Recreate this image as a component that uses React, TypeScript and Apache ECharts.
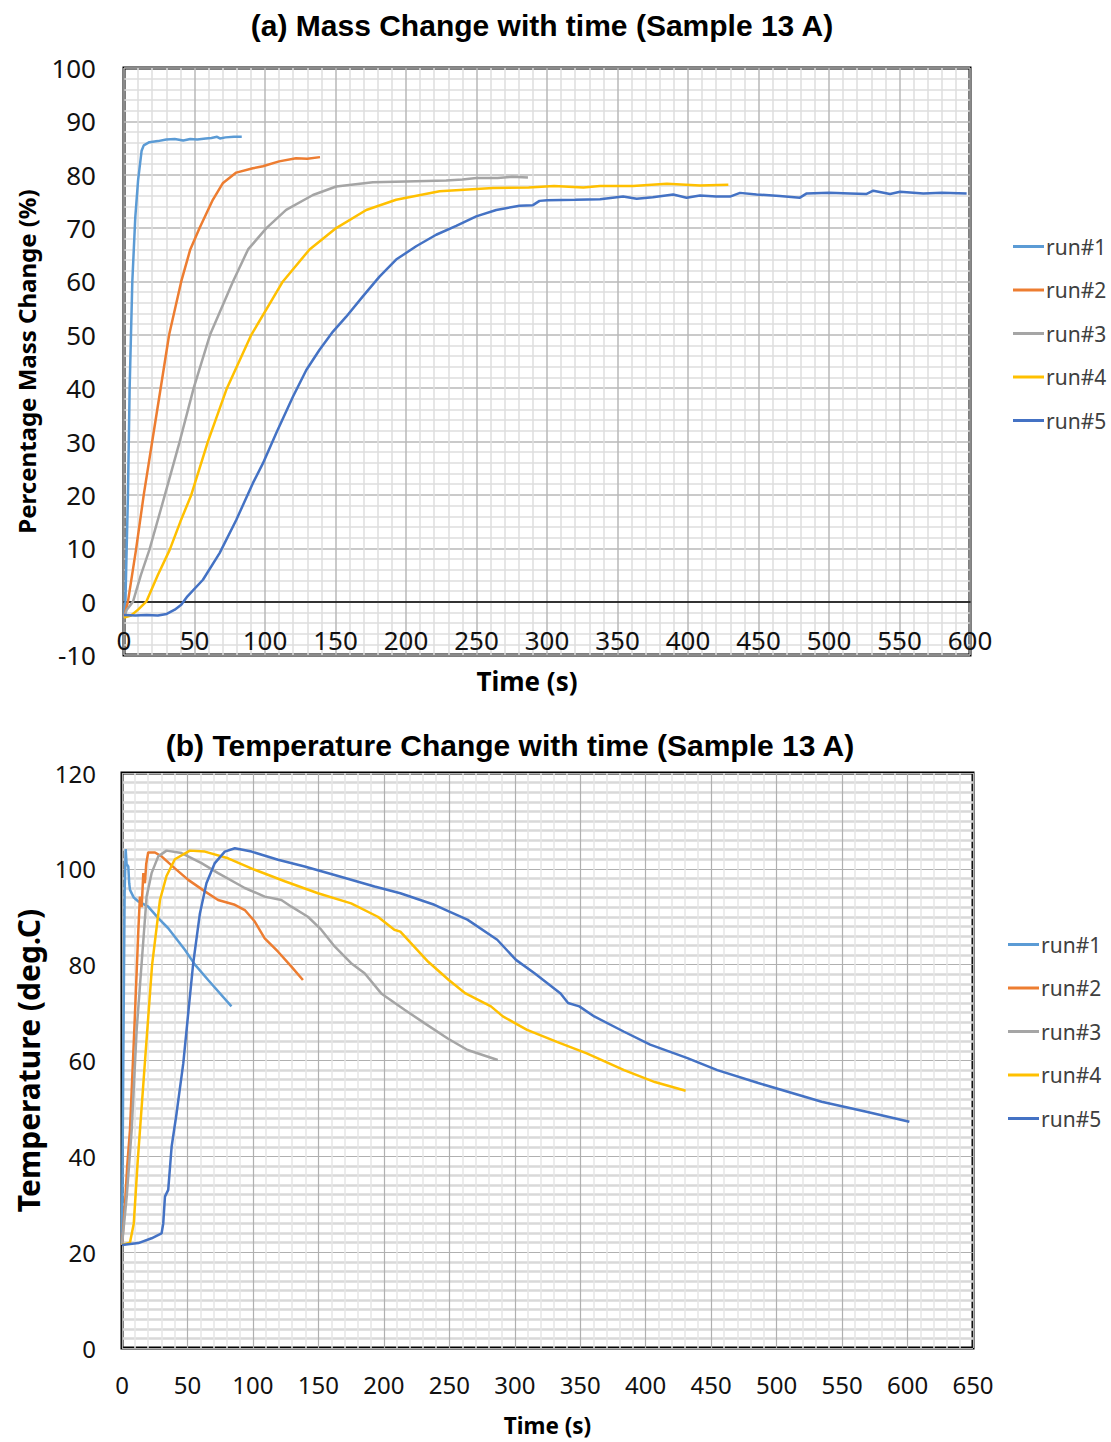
import React, { useEffect, useRef } from "react";
import * as echarts from "echarts";

// ---------- Data ----------
const runNames = ["run#1", "run#2", "run#3", "run#4", "run#5"];
const runColors = ["#5B9BD5", "#ED7D31", "#A5A5A5", "#FFC000", "#4472C4"];

const massXTicks = { min: 0, max: 600, step: 50 };
const massYTicks = { min: -10, max: 100, step: 10 };
const tempXTicks = { min: 0, max: 650, step: 50 };
const tempYTicks = { min: 0, max: 120, step: 20 };

// (a) mass change [time s, %]
const massRun1: [number, number][] = [
  [0, -3], [1, 0], [2.8, 20], [4, 40], [5.9, 60], [8, 72], [10, 79], [12.5, 84.5], [14, 85.5],
  [18, 86.1], [24, 86.3], [30, 86.6], [36, 86.7], [42, 86.4], [47, 86.7], [52, 86.6], [58, 86.8],
  [62, 86.9], [66, 87.1], [68, 86.8], [72, 87.0], [78, 87.1], [83.5, 87.1],
];
const massRun2: [number, number][] = [
  [0, -3], [2.8, 0], [8.5, 9.7], [14, 20], [20, 30], [26, 40], [32, 50], [40.6, 60], [47, 66],
  [53.6, 70], [63, 75.3], [70, 78.4], [79.6, 80.4], [91.4, 81.2], [98.5, 81.6], [110, 82.5],
  [122, 83.1], [130, 83.0], [139, 83.3],
];
const massRun3: [number, number][] = [
  [0, -3], [2, -1.5], [6.4, 0], [12, 5], [18, 9.7], [29, 20], [39.5, 30], [49.4, 40], [61, 50],
  [77.3, 60], [88, 66], [101, 70], [115, 73.4], [134, 76.2], [150.5, 77.8], [176.5, 78.6],
  [200, 78.75], [228.5, 78.9], [240, 79.1], [250, 79.4], [265, 79.4], [275, 79.6], [286.5, 79.5],
];
const massRun4: [number, number][] = [
  [0, -3], [5, -2.6], [10, -1.5], [15.8, 0], [24, 5], [32.4, 9.7], [40, 15], [47.7, 20],
  [59.5, 30], [73, 40], [90.3, 50], [112.7, 60], [131.6, 66], [150.5, 70], [171.8, 73.4],
  [193, 75.3], [223.8, 76.9], [261.6, 77.5], [287, 77.6], [305, 77.9], [325.8, 77.6],
  [337.6, 77.9], [361, 77.9], [385, 78.3], [408.5, 78.0], [428.6, 78.1],
];
const massRun5: [number, number][] = [
  [0, -2.5], [8, -2.6], [16, -2.5], [24, -2.6], [30.3, -2.3], [36, -1.5], [40.6, -0.6], [45, 1],
  [56, 4.1], [67.8, 9.1], [79.6, 15.3], [91.4, 22.2], [98.5, 25.9], [108, 31.6], [119.8, 38.4],
  [129.3, 43.4], [138.7, 47.2], [148.2, 50.6], [157.6, 53.4], [169.4, 57.2], [181.2, 60.9],
  [193, 64.1], [207.2, 66.6], [221.4, 68.75], [235.6, 70.4], [249.8, 72.2], [264, 73.4],
  [280.5, 74.2], [290, 74.3], [294.7, 75.1], [300, 75.2], [320, 75.3], [337.6, 75.4],
  [354, 75.9], [363.6, 75.5], [375, 75.8], [389.5, 76.3], [399, 75.7], [408.5, 76.1],
  [420, 75.9], [429.8, 75.9], [436.9, 76.6], [448.6, 76.3], [465, 76.0], [479.4, 75.7],
  [484.2, 76.5], [500, 76.6], [515, 76.5], [526.7, 76.4], [531.4, 77.0], [543.3, 76.4],
  [550.4, 76.8], [566.9, 76.5], [580, 76.6], [597.6, 76.5],
];

// (b) temperature [time s, deg.C]
const tempRun1: [number, number][] = [
  [0, 22], [1, 60], [2, 95], [2.8, 104.1], [3.5, 101], [4.8, 100.5], [5.5, 97], [6.1, 95.6],
  [9, 94], [12.5, 93.2], [20, 92.1], [27.7, 89.7], [35.3, 87.6], [48, 83.1], [55.7, 80],
  [65.8, 76.8], [83.6, 71.3],
];
const tempRun2: [number, number][] = [
  [0, 21.5], [2.3, 30], [4, 38], [6.1, 45.5], [9.4, 66.4], [12.5, 87.3], [13.7, 94.2], [15, 92],
  [16.3, 99.1], [17.5, 97], [18.5, 101], [20, 103.4], [25.2, 103.4], [30.2, 102.6], [40.4, 100.1],
  [50.6, 97.7], [63.3, 95.3], [73.4, 93.5], [86.2, 92.5], [93.8, 91.4], [101.4, 89], [109, 85.5],
  [119.2, 82.7], [129.4, 79.6], [138.2, 76.8],
];
const tempRun3: [number, number][] = [
  [0, 21.5], [3.6, 31.6], [7.4, 45.5], [11.2, 66.4], [15, 80.3], [18.8, 94.2], [22.6, 99.1],
  [27.7, 102.6], [34, 103.8], [45.5, 103.3], [60.7, 101.2], [73.4, 99.1], [93.8, 96], [109, 94.2],
  [121.7, 93.5], [129.4, 92.1], [142, 90], [152.2, 87.3], [162.4, 83.8], [175, 80.3],
  [185.3, 78.2], [198, 74], [215.8, 70.6], [231, 67.8], [248.8, 64.6], [264, 62.2], [287, 60.1],
];
const tempRun4: [number, number][] = [
  [0, 21.5], [6.1, 22], [9, 26], [12, 39], [17.6, 60], [23, 80], [29, 93.5], [34, 98.5],
  [40.4, 102], [51.8, 103.8], [63.3, 103.6], [81, 102.2], [101.4, 99.8], [124.3, 97.4],
  [149.7, 94.9], [175, 92.8], [195.4, 90], [208, 87.3], [212.6, 86.9], [233.9, 80.6],
  [249.6, 76.8], [262.4, 74], [281.8, 71.3], [290.9, 69.2], [309.4, 66.4], [332.2, 63.9],
  [355, 61.5], [383.5, 58], [407, 55.5], [430.5, 53.7],
];
const tempRun5: [number, number][] = [
  [0, 21.5], [12.5, 21.9], [22.6, 22.9], [30.2, 23.9], [31.5, 26], [32.8, 31.6], [35.3, 33],
  [37.9, 42], [41.7, 49], [46.8, 59.4], [50.6, 69.9], [54.4, 80.3], [59.5, 90.7], [64.5, 97],
  [70.9, 101.2], [78.5, 103.6], [86.2, 104.3], [98.9, 103.6], [119.2, 101.9], [139.5, 100.5],
  [162.4, 98.7], [192.9, 96.3], [212.6, 94.9], [238.6, 92.5], [249.6, 91.1], [263.8, 89.4],
  [286.6, 85.2], [300.9, 81], [315.1, 78.2], [335, 74], [340.7, 72], [349.3, 71.3],
  [360.7, 69.2], [383.5, 66], [403.4, 63.3], [431.9, 60.5], [454.7, 58], [486, 55.3],
  [534.4, 51.4], [568.6, 49.3], [601.4, 47.2],
];

const massRuns = [massRun1, massRun2, massRun3, massRun4, massRun5];
const tempRuns = [tempRun1, tempRun2, tempRun3, tempRun4, tempRun5];

const labelFont = "Noto Sans";
const titleFont = "Liberation Sans";

function buildOption(): any {
  const series: any[] = [];
  massRuns.forEach((d, i) =>
    series.push({
      type: "line", name: runNames[i], xAxisIndex: 0, yAxisIndex: 0, data: d,
      symbol: "none", showSymbol: false, color: runColors[i],
      lineStyle: { color: runColors[i], width: 2.5 },
    })
  );
  tempRuns.forEach((d, i) =>
    series.push({
      type: "line", name: runNames[i], xAxisIndex: 1, yAxisIndex: 1, data: d,
      symbol: "none", showSymbol: false, color: runColors[i],
      lineStyle: { color: runColors[i], width: 2.5 },
    })
  );

  const axisLabel = (margin: number, size: number) => ({
    fontSize: size, color: "#111", fontFamily: labelFont, margin,
  });

  const legendBase = {
    orient: "vertical", icon: "rect", itemWidth: 31, itemHeight: 3, itemGap: 22.5,
    data: runNames,
    textStyle: { fontSize: 21, color: "#404040", fontFamily: labelFont, padding: [0, 0, 0, -3] },
  };

  return {
    animation: false,
    backgroundColor: "#fff",
    title: [
      {
        text: "(a) Mass Change with time (Sample 13 A)",
        left: 537, top: 5, textAlign: "center",
        textStyle: { fontFamily: titleFont, fontWeight: "bold", fontSize: 30, color: "#000" },
      },
      {
        text: "(b) Temperature Change with time (Sample 13 A)",
        left: 505, top: 725, textAlign: "center",
        textStyle: { fontFamily: titleFont, fontWeight: "bold", fontSize: 30, color: "#000" },
      },
    ],
    legend: [
      { ...legendBase, left: 1008, top: 231 },
      { ...legendBase, left: 1003, top: 929 },
    ],
    grid: [
      { left: 124, top: 68, width: 846, height: 587, show: true, borderColor: "#000", borderWidth: 3, backgroundColor: "transparent" },
      { left: 122, top: 773, width: 851, height: 575, show: true, borderColor: "#000", borderWidth: 3, backgroundColor: "transparent" },
    ],
    xAxis: [
      {
        type: "value", gridIndex: 0, min: massXTicks.min, max: massXTicks.max, interval: massXTicks.step,
        axisLine: { show: true, onZero: true, lineStyle: { color: "#000", width: 1.5 } },
        axisTick: { show: false },
        axisLabel: axisLabel(-28, 26),
        splitLine: { show: true, lineStyle: { color: "#b8b8b8", width: 1.5 } },
        minorTick: { show: false, splitNumber: 5 },
        minorSplitLine: { show: true, lineStyle: { color: "#dedede", width: 1.5 } },
        name: "Time (s)", nameLocation: "middle", nameGap: 13,
        nameTextStyle: { fontFamily: labelFont, fontWeight: "bold", fontSize: 26, color: "#000", padding: [0, 40, 0, 0] },
      },
      {
        type: "value", gridIndex: 1, min: tempXTicks.min, max: tempXTicks.max, interval: tempXTicks.step,
        axisLine: { show: false },
        axisTick: { show: false },
        axisLabel: axisLabel(24, 24),
        splitLine: { show: true, lineStyle: { color: "#b0b0b0", width: 1.2 } },
        minorTick: { show: false, splitNumber: 5 },
        minorSplitLine: { show: true, lineStyle: { color: "#e6e6e6", width: 1.5 } },
        name: "Time (s)", nameLocation: "middle", nameGap: 66,
        nameTextStyle: { fontFamily: labelFont, fontWeight: "bold", fontSize: 22.5, color: "#000" },
      },
    ],
    yAxis: [
      {
        type: "value", gridIndex: 0, min: massYTicks.min, max: massYTicks.max, interval: massYTicks.step,
        axisLine: { show: false }, axisTick: { show: false },
        axisLabel: axisLabel(28, 26),
        splitLine: { show: true, lineStyle: { color: "#b8b8b8", width: 1.5 } },
        minorTick: { show: false, splitNumber: 5 },
        minorSplitLine: { show: true, lineStyle: { color: "#dedede", width: 1.5 } },
        name: "Percentage Mass Change (%)", nameLocation: "middle", nameGap: 86,
        nameTextStyle: { fontFamily: labelFont, fontWeight: "bold", fontSize: 24, color: "#000" },
      },
      {
        type: "value", gridIndex: 1, min: tempYTicks.min, max: tempYTicks.max, interval: tempYTicks.step,
        axisLine: { show: false }, axisTick: { show: false },
        axisLabel: axisLabel(26, 24),
        splitLine: { show: true, lineStyle: { color: "#b0b0b0", width: 1.2 } },
        minorTick: { show: false, splitNumber: 10 },
        minorSplitLine: { show: true, lineStyle: { color: "#d9d9d9", width: 2.5 } },
        name: "Temperature (deg.C)", nameLocation: "middle", nameGap: 75,
        nameTextStyle: { fontFamily: labelFont, fontWeight: "bold", fontSize: 30, color: "#000" },
      },
    ],
    series,
  };
}

export default function App() {
  const ref = useRef<HTMLDivElement>(null);
  useEffect(() => {
    if (!ref.current) return;
    const chart = echarts.init(ref.current, null, { renderer: "svg" });
    chart.setOption(buildOption());
    return () => chart.dispose();
  }, []);
  return (
    <div
      ref={ref}
      style={{ position: "absolute", left: 0, top: 0, width: 1111, height: 1442, background: "#fff" }}
    />
  );
}
